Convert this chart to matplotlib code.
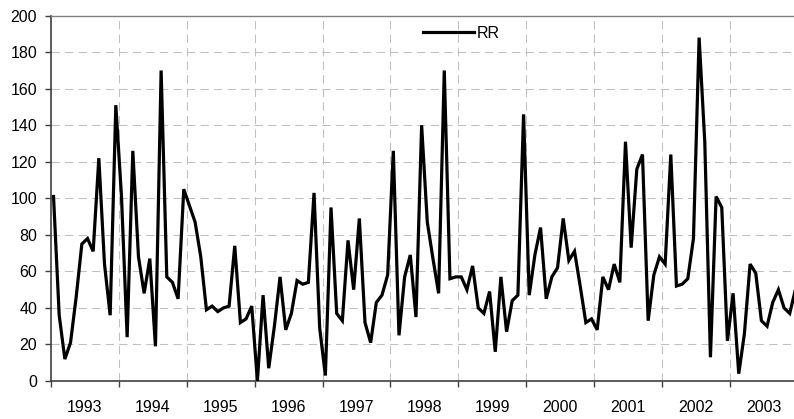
import matplotlib
matplotlib.use("Agg")
import matplotlib.pyplot as plt
import numpy as np

plt.rcParams['font.family'] = ['Liberation Sans', 'DejaVu Sans']

years = ['1993', '1994', '1995', '1996', '1997', '1998', '1999', '2000', '2001', '2002', '2003']

rr_1993 = [101, 36, 12, 21, 46, 75, 78, 71, 122, 64, 36, 151]
rr_1994 = [101, 24, 126, 68, 48, 67, 19, 170, 57, 54, 45, 105]
rr_1995 = [96, 87, 68, 39, 41, 38, 40, 41, 74, 32, 34, 41]
rr_1996 = [0, 47, 7, 30, 57, 28, 37, 55, 53, 54, 103, 29]
rr_1997 = [3, 95, 37, 33, 77, 50, 89, 32, 21, 43, 47, 58]
rr_1998 = [126, 25, 57, 69, 35, 140, 87, 67, 48, 170, 56, 57]
rr_1999 = [57, 50, 63, 40, 37, 49, 16, 57, 27, 44, 47, 146]
rr_2000 = [47, 69, 84, 45, 57, 62, 89, 66, 71, 52, 32, 34]
rr_2001 = [28, 57, 50, 64, 54, 131, 73, 116, 124, 33, 58, 68]
rr_2002 = [64, 124, 52, 53, 56, 78, 188, 131, 13, 101, 95, 22]
rr_2003 = [48, 4, 26, 64, 59, 33, 30, 43, 50, 40, 37, 50]

rr = (rr_1993 + rr_1994 + rr_1995 + rr_1996 + rr_1997 + rr_1998 +
      rr_1999 + rr_2000 + rr_2001 + rr_2002 + rr_2003)
n = len(rr)
x = np.arange(n) + 0.5

W, H = 794, 419
fig = plt.figure(figsize=(W / 100, H / 100), dpi=100)
left_px, top_px, bottom_px = 50.7, 15.7, 381.0
month_px = 5.663
ax = fig.add_axes([left_px / W, 1 - bottom_px / H,
                   n * month_px / W, (bottom_px - top_px) / H])

line, = ax.plot(x, rr, color='black', lw=2.3, solid_joinstyle='miter', label='RR', zorder=3)

ax.set_xlim(0, n)
ax.set_ylim(0, 200)

ax.set_yticks(np.arange(0, 201, 20))
ax.set_xticks(np.arange(0, n + 1, 12))
ax.set_xticklabels([])
ax.set_xticks(np.arange(6, n, 12), minor=True)
ax.set_xticklabels(years, minor=True)

ax.tick_params(axis='y', direction='out', length=4.3, width=1, color='#404040',
               labelsize=11.5, pad=5.5)
ax.tick_params(axis='x', which='major', direction='out', length=4.3, width=1,
               color='#404040')
ax.tick_params(axis='x', which='minor', length=0, labelsize=11.5, pad=13.5)

gridkw = dict(color='#c0c0c0', lw=0.75, linestyle=(0, (8, 5)), zorder=1)
for yv in range(20, 200, 20):
    ax.axhline(yv, **gridkw)
for xv in range(12, n + 1, 12):
    ax.axvline(xv, **gridkw)

for s in ['left', 'bottom']:
    ax.spines[s].set_color('#404040')
    ax.spines[s].set_linewidth(1.2)
ax.spines['top'].set_color('#808080')
ax.spines['top'].set_linewidth(1.0)
ax.spines['right'].set_visible(False)

leg = ax.legend(loc='center left', bbox_to_anchor=(423 / W, 1 - 33.3 / H),
                bbox_transform=fig.transFigure, frameon=False, borderpad=0,
                borderaxespad=0, handlelength=3.2, handletextpad=0.15,
                fontsize=11.5)

fig.savefig('out.png', dpi=100)
